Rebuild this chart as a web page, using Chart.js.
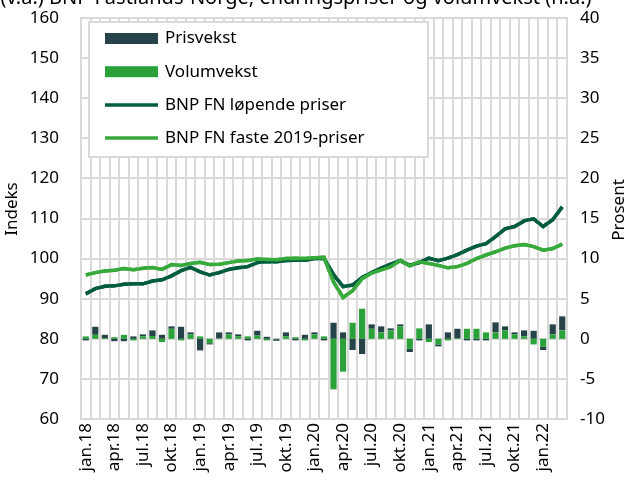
<!DOCTYPE html>
<html>
<head>
<meta charset="utf-8">
<script src="https://cdn.jsdelivr.net/npm/chart.js@4/dist/chart.umd.min.js"></script>
<style>
  html, body { margin: 0; padding: 0; background: #ffffff; }
  #wrap { width: 630px; height: 490px; }
</style>
</head>
<body>
<div id="wrap"><canvas id="c" width="630" height="490"></canvas></div>
<script>
// Months, jan.18 – mar.22
const months = [
  'jan.18','feb.18','mar.18','apr.18','mai.18','jun.18','jul.18','aug.18','sep.18','okt.18','nov.18','des.18',
  'jan.19','feb.19','mar.19','apr.19','mai.19','jun.19','jul.19','aug.19','sep.19','okt.19','nov.19','des.19',
  'jan.20','feb.20','mar.20','apr.20','mai.20','jun.20','jul.20','aug.20','sep.20','okt.20','nov.20','des.20',
  'jan.21','feb.21','mar.21','apr.21','mai.21','jun.21','jul.21','aug.21','sep.21','okt.21','nov.21','des.21',
  'jan.22','feb.22','mar.22'
];

// Monthly change, percent (right axis)
const prisvekst = [
  -0.2, 1.0, 0.4, -0.3, -0.3, 0.3, 0.25, 0.7, 0.5, 0.3, 1.5, 0.25,
  -1.45, -0.15, 0.75, 0.25, 0.25, -0.2, 0.6, 0.25, -0.2, 0.5, -0.2, 0.5,
  0.25, -0.2, 2.0, 0.8, -1.4, -1.9, 0.55, 0.75, 0.25, 0.25, -0.4, -0.2,
  1.8, -0.25, 0.8, 1.15, -0.2, -0.2, -0.2, 1.25, 0.5, 0.25, 0.75, 1.0,
  -0.4, 1.25, 1.75
];
const volumvekst = [
  0.3, 0.5, 0.1, 0.2, 0.5, -0.2, 0.3, 0.35, -0.4, 1.25, -0.2, 0.55,
  0.3, -0.55, 0.05, 0.55, 0.3, 0.3, 0.4, -0.2, -0.05, 0.3, 0.2, -0.2,
  0.55, 0.3, -6.3, -4.1, 2.0, 3.75, 1.25, 0.8, 1.05, 1.55, -1.25, 1.3,
  -0.4, -0.7, -0.2, 0.1, 1.25, 1.25, 0.8, 0.8, 1.05, 0.55, 0.3, -0.7,
  -1.0, 0.55, 1.05
];

// Index levels (left axis)
const bnpLopende = [
  91.2, 92.5, 93.1, 93.2, 93.6, 93.7, 93.7, 94.4, 94.7, 95.7,
  97.0, 97.8, 96.7, 95.9, 96.5, 97.3, 97.7, 98.0, 99.0, 99.3,
  99.2, 99.5, 99.6, 99.6, 100.0, 100.1, 96.0, 93.0, 93.4, 95.3,
  96.5, 97.6, 98.6, 99.5, 98.3, 99.0, 100.1, 99.5, 100.1, 101.0,
  102.1, 103.1, 103.7, 105.5, 107.4, 108.0, 109.4, 109.9, 108.0, 109.7, 112.9
];
const bnpFaste = [
  95.9, 96.5, 96.9, 97.1, 97.5, 97.2, 97.6, 97.8, 97.3, 98.5,
  98.3, 98.8, 99.1, 98.5, 98.6, 99.0, 99.4, 99.5, 99.9, 99.8,
  99.7, 100.0, 100.1, 100.0, 100.2, 100.3, 94.2, 90.3, 92.0, 95.0,
  96.4, 97.2, 98.0, 99.5, 98.2, 99.2, 98.8, 98.3, 97.7, 98.0,
  98.8, 100.0, 100.9, 101.7, 102.6, 103.2, 103.5, 103.0, 102.1, 102.5, 103.6
];

const leftTicks = { min: 60, max: 160, step: 10 };
const rightTicks = { min: -10, max: 40, step: 5 };

const COL_PRIS = '#27434a';
const COL_VOLUM = '#2ba13a';
const COL_LOP = '#005c3e';
const COL_FASTE = '#37aa3c';
const GRID = '#d9d9d9';
const FONT = "'Noto Sans', 'Open Sans', sans-serif";

const legendItems = [
  { text: 'Prisvekst', type: 'box', color: COL_PRIS },
  { text: 'Volumvekst', type: 'box', color: COL_VOLUM },
  { text: 'BNP FN løpende priser', type: 'line', color: COL_LOP },
  { text: 'BNP FN faste 2019-priser', type: 'line', color: COL_FASTE }
];

const decorations = {
  id: 'decorations',
  afterDraw(chart) {
    const ctx = chart.ctx;
    const a = chart.chartArea;
    const x = chart.scales.x;
    const n = months.length;
    ctx.save();

    // vertical separators between the monthly categories, from the x scale
    ctx.save();
    ctx.beginPath();
    ctx.rect(a.left - 1, a.top - 1, a.right - a.left + 2, a.bottom - a.top + 2);
    ctx.clip();
    ctx.strokeStyle = GRID;
    ctx.lineWidth = 2;
    ctx.setLineDash([]);
    ctx.globalAlpha = 1;
    ctx.globalCompositeOperation = 'source-over';
    for (let i = 0; i <= n; i++) {
      let px = x.getPixelForValue(i - 0.5);
      if (!isFinite(px)) px = a.left + (a.right - a.left) * i / n;
      px = Math.round(px);
      ctx.beginPath();
      ctx.moveTo(px, a.top);
      ctx.lineTo(px, a.bottom);
      ctx.stroke();
    }
    ctx.restore();

    // index lines stay on top of the separators
    chart.data.datasets.forEach((ds, i) => {
      const meta = chart.getDatasetMeta(i);
      if (meta.type === 'line' && meta.controller) {
        ctx.save();
        meta.controller.draw();
        ctx.restore();
      }
    });

    // heading, partly above the canvas edge
    ctx.fillStyle = '#000';
    ctx.font = '20px ' + FONT;
    ctx.textAlign = 'center';
    ctx.textBaseline = 'alphabetic';
    ctx.fillText('(v.a.) BNP Fastlands-Norge, endringspriser og volumvekst (h.a.)', 296, 4);

    // axis titles
    ctx.font = '17px ' + FONT;
    ctx.textBaseline = 'middle';
    ctx.save();
    ctx.translate(12, 209);
    ctx.rotate(-Math.PI / 2);
    ctx.fillText('Indeks', 0, 0);
    ctx.restore();
    ctx.save();
    ctx.translate(619, 210);
    ctx.rotate(-Math.PI / 2);
    ctx.fillText('Prosent', 0, 0);
    ctx.restore();

    // legend box inside the plot
    const bx = 89, by = 22, bw = 339, bh = 135;
    ctx.fillStyle = '#ffffff';
    ctx.fillRect(bx, by, bw, bh);
    ctx.strokeStyle = GRID;
    ctx.lineWidth = 2;
    ctx.strokeRect(bx, by, bw, bh);
    ctx.font = '17px ' + FONT;
    ctx.textAlign = 'left';
    ctx.textBaseline = 'middle';
    legendItems.forEach((it, i) => {
      const cy = 38.5 + i * 33.2;
      if (it.type === 'box') {
        ctx.fillStyle = it.color;
        ctx.fillRect(105, cy - 5.5, 53, 11);
      } else {
        ctx.strokeStyle = it.color;
        ctx.lineWidth = 3.5;
        ctx.beginPath();
        ctx.moveTo(105, cy);
        ctx.lineTo(158, cy);
        ctx.stroke();
      }
      ctx.fillStyle = '#000';
      ctx.fillText(it.text, 165, cy);
    });
    ctx.restore();
  }
};

new Chart(document.getElementById('c'), {
  type: 'bar',
  data: {
    labels: months,
    datasets: [
      { type: 'bar', label: 'Volumvekst', data: volumvekst, yAxisID: 'y1', stack: 'vekst',
        backgroundColor: COL_VOLUM, categoryPercentage: 0.65, barPercentage: 1.0, order: 2 },
      { type: 'bar', label: 'Prisvekst', data: prisvekst, yAxisID: 'y1', stack: 'vekst',
        backgroundColor: COL_PRIS, categoryPercentage: 0.65, barPercentage: 1.0, order: 2 },
      { type: 'line', label: 'BNP FN løpende priser', data: bnpLopende, yAxisID: 'y',
        borderColor: COL_LOP, borderWidth: 3.5, pointRadius: 0, tension: 0, order: 1 },
      { type: 'line', label: 'BNP FN faste 2019-priser', data: bnpFaste, yAxisID: 'y',
        borderColor: COL_FASTE, borderWidth: 3.5, pointRadius: 0, tension: 0, order: 0 }
    ]
  },
  options: {
    responsive: false,
    devicePixelRatio: 1,
    animation: false,
    layout: { padding: { top: 18, left: 0, right: 0, bottom: 0 } },
    plugins: { legend: { display: false }, tooltip: { enabled: false }, title: { display: false } },
    scales: {
      x: {
        type: 'category',
        stacked: true,
        offset: true,
        grid: { display: false, drawTicks: false },
        border: { display: true, color: GRID, width: 2 },
        ticks: {
          autoSkip: false, maxRotation: 90, minRotation: 90, padding: 4,
          color: '#000', font: { family: FONT, size: 17 },
          callback: (v, i) => (i % 3 === 0 ? months[i] : '')
        },
        afterFit: s => { s.height = 71; s.paddingLeft = 0; s.paddingRight = 0; }
      },
      y: {
        type: 'linear',
        position: 'left',
        min: leftTicks.min, max: leftTicks.max,
        grid: { color: GRID, lineWidth: 2, drawTicks: false },
        border: { display: true, color: GRID, width: 2 },
        ticks: { stepSize: leftTicks.step, padding: 22, color: '#000', font: { family: FONT, size: 17 } },
        afterFit: s => { s.width = 81; s.paddingTop = 0; s.paddingBottom = 0; }
      },
      y1: {
        type: 'linear',
        position: 'right',
        stacked: true,
        min: rightTicks.min, max: rightTicks.max,
        grid: { display: false, drawTicks: false },
        border: { display: true, color: GRID, width: 2 },
        ticks: { stepSize: rightTicks.step, padding: 13, color: '#000', font: { family: FONT, size: 17 } },
        afterFit: s => { s.width = 63; s.paddingTop = 0; s.paddingBottom = 0; }
      }
    }
  },
  plugins: [decorations]
});
</script>
</body>
</html>
